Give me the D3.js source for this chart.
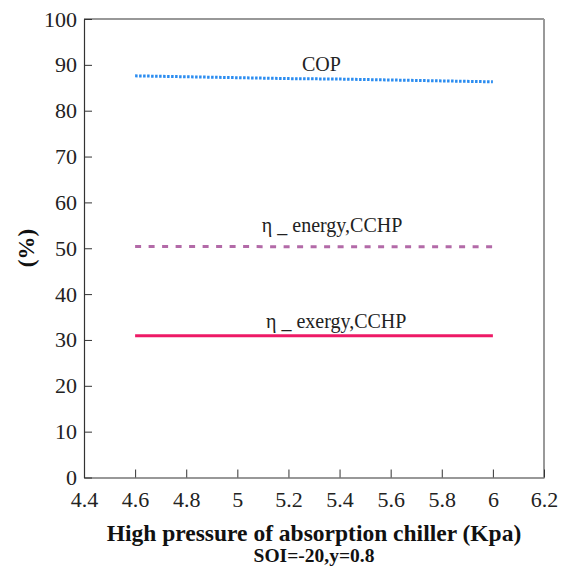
<!DOCTYPE html>
<html>
<head>
  <script src="https://d3js.org/d3.v7.min.js"></script>
  <style type="text/css">
    body { margin: 0; background: #fff; }
  </style>
</head>
<body>
<svg id="chart" width="568" height="568"></svg>
<script type="text/javascript">
// values
const pressure = [4.6, 4.8, 5.0, 5.2, 5.4, 5.6, 5.8, 6.0];
const cop = [87.6, 87.4, 87.2, 87.0, 86.9, 86.7, 86.5, 86.3];
const energyEff = [50.4, 50.4, 50.4, 50.3, 50.3, 50.3, 50.3, 50.3];
const exergyEff = [30.9, 30.9, 30.9, 30.9, 30.9, 30.9, 30.9, 30.9];
const xTicks = [4.4, 4.6, 4.8, 5, 5.2, 5.4, 5.6, 5.8, 6, 6.2];
const yTicks = [0, 10, 20, 30, 40, 50, 60, 70, 80, 90, 100];

const serif = '"Liberation Serif", "Times New Roman", serif';
const svg = d3.select('#chart');
const plotL = 84, plotR = 544, plotT = 19, plotB = 477.5;

const x = d3.scaleLinear().domain([4.4, 6.2]).range([plotL, plotR]);
const y = d3.scaleLinear().domain([0, 100]).range([plotB, plotT]);

// frame: top dark, right grey
svg.append('line').attr('x1', plotL).attr('x2', plotR).attr('y1', plotT).attr('y2', plotT)
  .attr('stroke', '#333').attr('stroke-width', 1.2);
svg.append('line').attr('x1', plotR).attr('x2', plotR).attr('y1', plotT).attr('y2', plotB)
  .attr('stroke', '#999').attr('stroke-width', 2);

// axes, ticks pointing inward
const xAxis = svg.append('g').attr('transform', `translate(0,${plotB})`)
  .call(d3.axisBottom(x).tickValues(xTicks).tickFormat(d3.format('')).tickSizeInner(-8).tickSizeOuter(0).tickPadding(14));
const yAxis = svg.append('g').attr('transform', `translate(${plotL},0)`)
  .call(d3.axisLeft(y).tickValues(yTicks).tickSizeInner(-8).tickSizeOuter(0).tickPadding(7));

[xAxis, yAxis].forEach(a => {
  a.select('.domain').attr('stroke', '#333').attr('stroke-width', 1.2);
  a.selectAll('.tick line').attr('stroke', '#333');
  a.selectAll('.tick text').style('font-family', serif).style('font-size', '22px').attr('fill', '#222');
});

const line = d3.line().x((d, i) => x(pressure[i])).y(d => y(d));

svg.append('path').datum(cop).attr('d', line)
  .attr('fill', 'none').attr('stroke', '#2a8cf0').attr('stroke-width', 3)
  .attr('stroke-dasharray', '2.5,1.5');
svg.append('path').datum(energyEff).attr('d', line)
  .attr('fill', 'none').attr('stroke', '#b36aa8').attr('stroke-width', 3)
  .attr('stroke-dasharray', '6,7.5');
svg.append('path').datum(exergyEff).attr('d', line)
  .attr('fill', 'none').attr('stroke', '#ee1a66').attr('stroke-width', 3);

// series labels
const labels = [
  { text: 'COP', xv: 5.253, yv: 88.7 },
  { text: 'η _ energy,CCHP', xv: 5.096, yv: 53.6 },
  { text: 'η _ exergy,CCHP', xv: 5.112, yv: 32.7 }
];
svg.selectAll('.lbl').data(labels).enter().append('text')
  .attr('class', 'lbl')
  .attr('x', d => x(d.xv)).attr('y', d => y(d.yv))
  .style('font-family', serif).style('font-size', '20px').attr('fill', '#222')
  .text(d => d.text);

// axis titles
svg.append('text').attr('x', 314).attr('y', 541).attr('text-anchor', 'middle')
  .style('font-family', serif).style('font-size', '23.5px').style('font-weight', 'bold').attr('fill', '#111')
  .text('High pressure of absorption chiller (Kpa)');
svg.append('text').attr('x', 314).attr('y', 562).attr('text-anchor', 'middle')
  .style('font-family', serif).style('font-size', '19.5px').style('font-weight', 'bold').attr('fill', '#111')
  .text('SOI=-20,y=0.8');
svg.append('text').attr('transform', 'translate(34,248) rotate(-90)').attr('text-anchor', 'middle')
  .style('font-family', serif).style('font-size', '23px').style('font-weight', 'bold').attr('fill', '#111')
  .text('(%)');
</script>
</body>
</html>
